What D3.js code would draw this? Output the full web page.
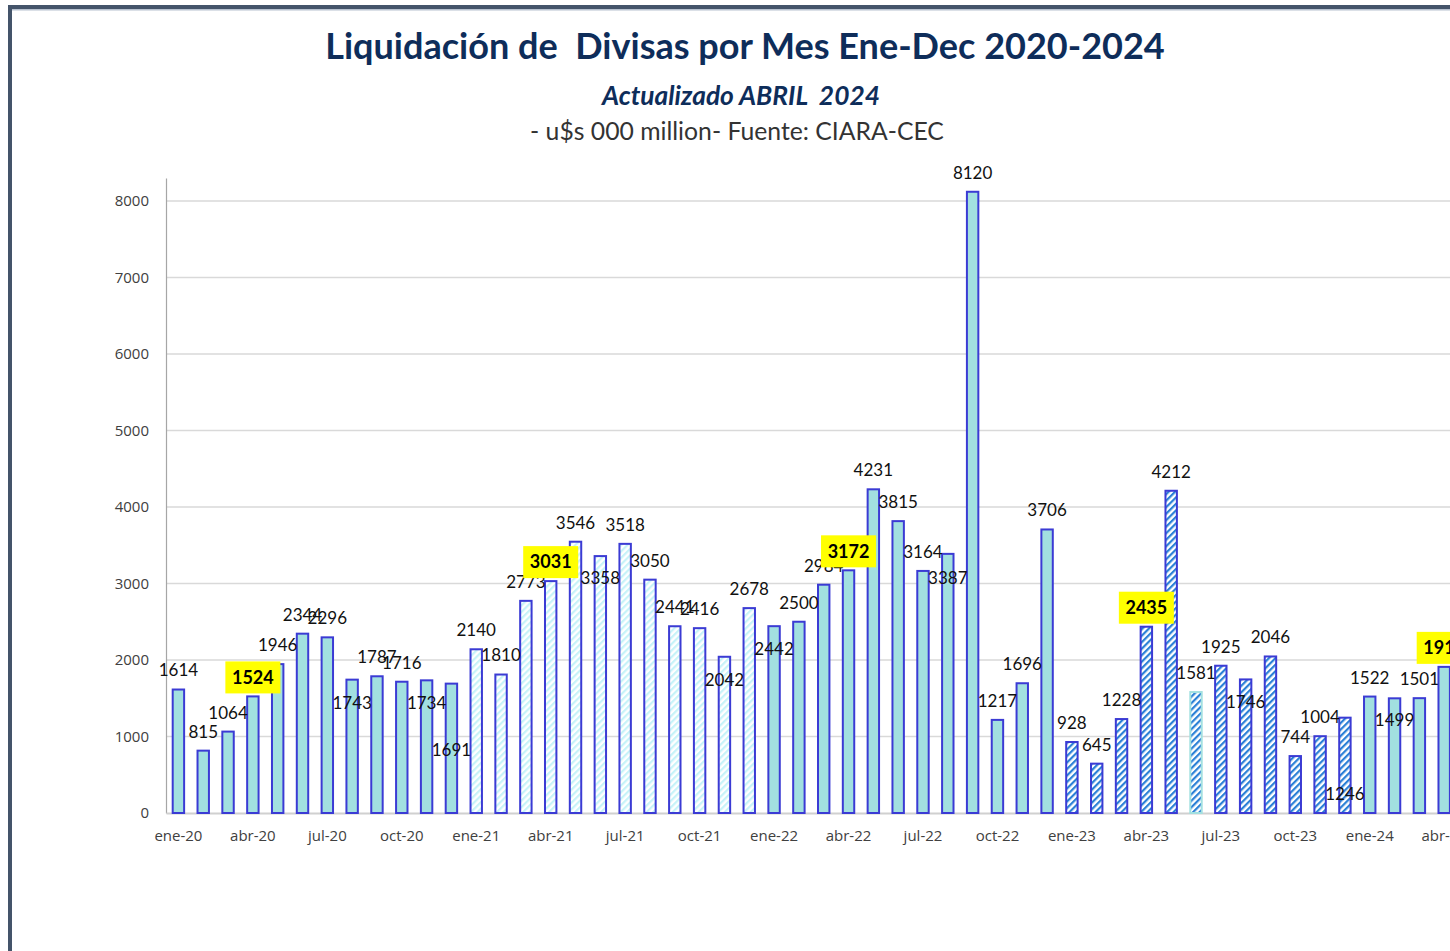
<!doctype html>
<html lang="es">
  <head>
    <meta charset="UTF-8" />
    <title>Liquidación de Divisas por Mes Ene-Dec 2020-2024</title>
    <script src="https://d3js.org/d3.v7.min.js"></script>
    <style>
      body {
        margin: 0;
        padding: 0;
        background: #ffffff;
        overflow: hidden;
      }

      .title {
        font-family: 'Lato', sans-serif;
        font-weight: bold;
        fill: #0e2d5a;
      }

      .subtitle {
        font-family: 'Lato', sans-serif;
        font-weight: bold;
        font-style: italic;
        fill: #0e2d5a;
      }

      .source {
        font-family: 'Lato', sans-serif;
        fill: #333;
      }

      .tick-label {
        font-family: 'Open Sans', sans-serif;
        font-size: 15px;
        fill: #404040;
      }

      .value-label {
        font-family: 'Lato', sans-serif;
        font-size: 17px;
        fill: #111;
      }

      .value-label.hi {
        font-weight: bold;
        font-size: 18px;
        fill: #000;
      }
    </style>
  </head>
  <body>
    <div id="chart"></div>

    <script>
      // Months on the x axis (Jan 2020 - Apr 2024)
      const months = [
        'ene-20', 'feb-20', 'mar-20', 'abr-20', 'may-20', 'jun-20', 'jul-20', 'ago-20', 'sep-20', 'oct-20', 'nov-20', 'dic-20',
        'ene-21', 'feb-21', 'mar-21', 'abr-21', 'may-21', 'jun-21', 'jul-21', 'ago-21', 'sep-21', 'oct-21', 'nov-21', 'dic-21',
        'ene-22', 'feb-22', 'mar-22', 'abr-22', 'may-22', 'jun-22', 'jul-22', 'ago-22', 'sep-22', 'oct-22', 'nov-22', 'dic-22',
        'ene-23', 'feb-23', 'mar-23', 'abr-23', 'may-23', 'jun-23', 'jul-23', 'ago-23', 'sep-23', 'oct-23', 'nov-23', 'dic-23',
        'ene-24', 'feb-24', 'mar-24', 'abr-24',
      ]

      // Monthly liquidation, u$s million
      const values = [
        1614, 815, 1064, 1524, 1946, 2344, 2296, 1743, 1787, 1716, 1734, 1691,
        2140, 1810, 2773, 3031, 3546, 3358, 3518, 3050, 2441, 2416, 2042, 2678,
        2442, 2500, 2984, 3172, 4231, 3815, 3164, 3387, 8120, 1217, 1696, 3706,
        928, 645, 1228, 2435, 4212, 1581, 1925, 1746, 2046, 744, 1004, 1246,
        1522, 1499, 1501, 1910,
      ]

      const xTickLabels = [
        'ene-20', 'abr-20', 'jul-20', 'oct-20', 'ene-21', 'abr-21', 'jul-21', 'oct-21',
        'ene-22', 'abr-22', 'jul-22', 'oct-22', 'ene-23', 'abr-23', 'jul-23', 'oct-23',
        'ene-24', 'abr-24',
      ]
      const yTickValues = [0, 1000, 2000, 3000, 4000, 5000, 6000, 7000, 8000]

      // April values shown in a yellow box
      const highlighted = ['abr-20', 'abr-21', 'abr-22', 'abr-23', 'abr-24']

      // label placement (px from bar top to label centre), default is above
      const labelShift = {
        'ago-20': 23, 'nov-20': 23, 'dic-20': 66, 'jun-21': 22, 'nov-21': 23,
        'ene-22': 23, 'ago-22': 24, 'ago-23': 23, 'dic-23': 76, 'feb-24': 22,
      }

      // bar look per year
      const yearFill = {
        20: '#a2e0e0',
        21: 'url(#stripeLight)',
        22: '#a2e0e0',
        23: 'url(#stripeBlue)',
        24: '#a2e0e0',
      }
      const barStroke = '#3b3bd4'
      const strokeOverride = { 'jun-23': '#a2e0e0' }

      const W = 1450
      const H = 951

      const svg = d3.select('#chart').append('svg').attr('width', W).attr('height', H)

      // stripe patterns
      const defs = svg.append('defs')
      function stripes(id, color, size, lineW) {
        const p = defs
          .append('pattern')
          .attr('id', id)
          .attr('patternUnits', 'userSpaceOnUse')
          .attr('width', size)
          .attr('height', size)
          .attr('patternTransform', 'rotate(45)')
        p.append('rect').attr('width', size).attr('height', size).attr('fill', '#fff')
        p.append('rect').attr('width', lineW).attr('height', size).attr('fill', color)
      }
      stripes('stripeLight', '#c6f3f8', 4.6, 2.2)
      stripes('stripeBlue', '#2a80d6', 4.6, 2.2)

      // frame
      svg.append('rect').attr('x', 8).attr('y', 5).attr('width', W).attr('height', 4).attr('fill', '#44546a')
      svg.append('rect').attr('x', 12).attr('y', 9).attr('width', W).attr('height', 1.5).attr('fill', '#b8c2d0')
      svg.append('rect').attr('x', 8).attr('y', 5).attr('width', 4).attr('height', H).attr('fill', '#44546a')

      // fit a text line to a given width
      function fitText(sel, target) {
        const base = parseFloat(sel.style('font-size'))
        const w = sel.node().getComputedTextLength()
        sel.style('font-size', (base * target) / w + 'px')
      }

      const title = svg
        .append('text')
        .attr('class', 'title')
        .attr('x', 745)
        .attr('y', 59)
        .attr('text-anchor', 'middle')
        .style('font-size', '34px')
        .text('Liquidación de  Divisas por Mes Ene-Dec 2020-2024')
        .style('white-space', 'pre')
      fitText(title, 840)

      const sub = svg
        .append('text')
        .attr('class', 'subtitle')
        .attr('x', 741)
        .attr('y', 105)
        .attr('text-anchor', 'middle')
        .style('font-size', '24px')
        .style('white-space', 'pre')
        .text('Actualizado ABRIL  2024')
      fitText(sub, 278)

      const src = svg
        .append('text')
        .attr('class', 'source')
        .attr('x', 737)
        .attr('y', 140)
        .attr('text-anchor', 'middle')
        .style('font-size', '24px')
        .text('- u$s 000 million- Fuente: CIARA-CEC')
      fitText(src, 414)

      // scales
      const x = d3.scaleBand().domain(months).range([166, 1456.6]).paddingInner(0.54).paddingOuter(0.27)
      const y = d3.scaleLinear().domain([0, 8300]).range([813, 178])

      // gridlines
      svg
        .append('g')
        .selectAll('line')
        .data(yTickValues.filter((d) => d > 0))
        .join('line')
        .attr('x1', 166)
        .attr('x2', W)
        .attr('y1', (d) => y(d))
        .attr('y2', (d) => y(d))
        .attr('stroke', '#d9d9d9')
        .attr('stroke-width', 1.6)

      // axes
      const yAxis = svg
        .append('g')
        .attr('transform', 'translate(166,0)')
        .call(d3.axisLeft(y).tickValues(yTickValues).tickSize(0).tickPadding(17).tickFormat(d3.format('d')))
      yAxis.select('.domain').attr('stroke', '#a6a6a6').attr('stroke-width', 1.2)
      yAxis.selectAll('.tick text').attr('class', 'tick-label').attr('font-family', null).attr('font-size', null)

      const xAxis = svg
        .append('g')
        .attr('transform', 'translate(0,813)')
        .call(d3.axisBottom(x).tickValues(xTickLabels).tickSize(0).tickPadding(17))
      xAxis.select('.domain').attr('stroke', '#d0d0d0').attr('stroke-width', 2)
      xAxis.selectAll('.tick text').attr('class', 'tick-label').attr('font-family', null).attr('font-size', null)

      // bars
      const rows = months.map((m, i) => ({ month: m, value: values[i], year: m.slice(-2) }))
      svg
        .append('g')
        .selectAll('rect')
        .data(rows)
        .join('rect')
        .attr('x', (d) => x(d.month))
        .attr('y', (d) => y(d.value))
        .attr('width', x.bandwidth())
        .attr('height', (d) => y(0) - y(d.value))
        .attr('fill', (d) => yearFill[d.year])
        .attr('stroke', (d) => strokeOverride[d.month] || barStroke)
        .attr('stroke-width', 2)

      // value labels
      const labels = svg.append('g')
      const cx = (d) => x(d.month) + x.bandwidth() / 2
      const cy = (d) => y(d.value) + (labelShift[d.month] !== undefined ? labelShift[d.month] : -19)

      labels
        .selectAll('text.plain')
        .data(rows.filter((d) => !highlighted.includes(d.month)))
        .join('text')
        .attr('class', 'value-label plain')
        .attr('x', cx)
        .attr('y', cy)
        .attr('dy', '0.35em')
        .attr('text-anchor', 'middle')
        .text((d) => d.value)

      const hi = labels
        .selectAll('g.hi')
        .data(rows.filter((d) => highlighted.includes(d.month)))
        .join('g')
        .attr('class', 'hi')
        .attr('transform', (d) => `translate(${cx(d)},${cy(d)})`)
      hi.append('rect').attr('x', -27.5).attr('y', -16).attr('width', 55).attr('height', 32).attr('fill', '#ffff00')
      hi.append('text')
        .attr('class', 'value-label hi')
        .attr('dy', '0.35em')
        .attr('text-anchor', 'middle')
        .text((d) => d.value)
    </script>
  </body>
</html>
